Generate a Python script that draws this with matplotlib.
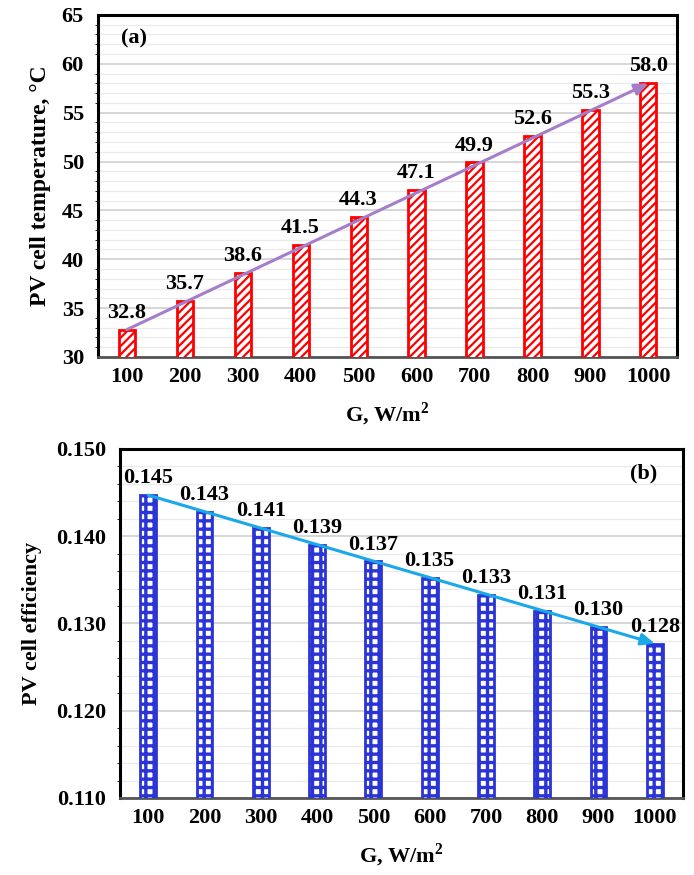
import numpy as np
import matplotlib
matplotlib.use('Agg')
from matplotlib import pyplot as plt
from matplotlib import ticker

plt.rcParams['font.family'] = 'Liberation Serif'
plt.rcParams['font.weight'] = 'bold'
plt.rcParams['mathtext.fontset'] = 'custom'
plt.rcParams['mathtext.rm'] = 'Liberation Serif:bold'
plt.rcParams['mathtext.bf'] = 'Liberation Serif:bold'

G = [100, 200, 300, 400, 500, 600, 700, 800, 900, 1000]
temperature = [32.8, 35.7, 38.6, 41.5, 44.3, 47.1, 49.9, 52.6, 55.3, 58.0]
efficiency = [0.1447, 0.1428, 0.1409, 0.1390, 0.1371, 0.1352, 0.1333, 0.1314, 0.1296, 0.1277]

fig = plt.figure(figsize=(6.94, 8.75), dpi=100)
ax1 = fig.add_axes([0.141, 0.592, 0.835, 0.391])
ax2 = fig.add_axes([0.173, 0.088, 0.811, 0.399])

x = np.arange(len(G))


def style_axes(ax, ylo, yhi, major, minor, fmt):
    ax.set_xlim(-0.5, len(G) - 0.5)
    ax.set_ylim(ylo, yhi)
    ax.yaxis.set_major_locator(ticker.MultipleLocator(major))
    ax.yaxis.set_minor_locator(ticker.MultipleLocator(minor))
    ax.yaxis.set_major_formatter(ticker.FormatStrFormatter(fmt))
    ax.grid(which='major', axis='y', color='#d0d0d0', linewidth=1.2, zorder=0)
    ax.grid(which='minor', axis='y', color='#ebebeb', linewidth=1.0, zorder=0)
    ax.set_axisbelow(True)
    ax.set_xticks(x)
    ax.set_xticklabels([str(g) for g in G])
    ax.tick_params(axis='both', length=0, labelsize=16)
    ax.tick_params(axis='x', pad=7)
    ax.tick_params(axis='y', pad=10)
    for s in ['left', 'top', 'right']:
        ax.spines[s].set_linewidth(2.2)
        ax.spines[s].set_color('black')
    ax.spines['bottom'].set_linewidth(2.0)
    ax.spines['bottom'].set_color('#555555')
    ax.set_xlabel(r'G, W/m$^{\mathbf{2}}$', fontsize=16, fontweight='bold', labelpad=10)


# (a) temperature
style_axes(ax1, 30, 65, 5, 1, '%d')
plt.rcParams['hatch.linewidth'] = 1.6
bars = ax1.bar(x, temperature, width=0.28, color='white', edgecolor='red',
               hatch='////', linewidth=2, zorder=3)
for rect, v in zip(bars, temperature):
    ax1.annotate(f'{v:.1f}', (rect.get_x() + rect.get_width() / 2, v),
                 xytext=(0, 5), textcoords='offset points', ha='center',
                 va='bottom', fontsize=16, fontweight='bold')
ax1.annotate('', xy=(x[-1], temperature[-1]), xytext=(x[0], temperature[0]),
             arrowprops=dict(arrowstyle='-|>,head_length=0.8,head_width=0.35',
                             color='#a57ec9', lw=2.2, shrinkA=0, shrinkB=0),
             zorder=4)
ax1.set_ylabel('PV cell temperature, °C', fontsize=17, fontweight='bold', labelpad=8)
ax1.text(0.04, 0.93, '(a)', transform=ax1.transAxes, fontsize=16,
         fontweight='bold', ha='left', va='center')

# (b) efficiency
style_axes(ax2, 0.110, 0.150, 0.010, 0.002, '%.3f')
plt.rcParams['hatch.linewidth'] = 2.4
bars = ax2.bar(x, efficiency, width=0.28, color='white', edgecolor='#2b35d6',
               hatch='++', linewidth=2, zorder=3)
for rect, v in zip(bars, efficiency):
    ax2.annotate(f'{v:.3f}', (rect.get_x() + rect.get_width() / 2, v),
                 xytext=(0, 5), textcoords='offset points', ha='center',
                 va='bottom', fontsize=16, fontweight='bold')
ax2.annotate('', xy=(x[-1], efficiency[-1]), xytext=(x[0], efficiency[0]),
             arrowprops=dict(arrowstyle='-|>,head_length=0.8,head_width=0.35',
                             color='#1aa8e6', lw=2.2, shrinkA=0, shrinkB=0),
             zorder=4)
ax2.set_ylabel('PV cell efficiency', fontsize=16, fontweight='bold', labelpad=10)
ax2.text(0.955, 0.93, '(b)', transform=ax2.transAxes, fontsize=16,
         fontweight='bold', ha='right', va='center')

fig.savefig('out.png', dpi=100)
